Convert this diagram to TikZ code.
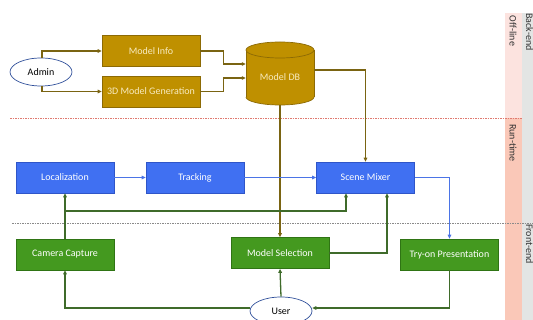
\documentclass[tikz,border=0pt]{standalone}
\usepackage{fontspec}
\setmainfont{Carlito}
\usetikzlibrary{arrows.meta,calc,shapes.geometric}
\definecolor{goldf}{HTML}{BF9000}
\definecolor{goldd}{HTML}{8C6A05}
\definecolor{goldl}{HTML}{7A6412}
\definecolor{goldt}{HTML}{F8EBC0}
\definecolor{bluef}{HTML}{4070F2}
\definecolor{blued}{HTML}{2F55C8}
\definecolor{bluel}{HTML}{4B74E6}
\definecolor{greenf}{HTML}{44991F}
\definecolor{greend}{HTML}{2F7414}
\definecolor{greenl}{HTML}{3F6B2A}
\definecolor{ellb}{HTML}{2F4F9A}
\definecolor{pinkA}{HTML}{FCE3DF}
\definecolor{pinkB}{HTML}{FAC8B8}
\definecolor{grayS}{HTML}{E3E5E4}
\definecolor{redD}{HTML}{E07A70}
\definecolor{grayD}{HTML}{8A8A8A}
\begin{document}
\begin{tikzpicture}[x=1pt,y=-1pt,
  font=\fontsize{10}{12}\selectfont,
  box/.style={rectangle, minimum width=98pt, minimum height=31pt, inner sep=0pt, line width=0.7pt},
  goldbox/.style={box, fill=goldf, draw=goldd, text=goldt},
  bluebox/.style={box, fill=bluef, draw=blued, text=white},
  greenbox/.style={box, fill=greenf, draw=greend, text=white},
  actor/.style={ellipse, draw=ellb, fill=white, line width=0.7pt, minimum width=62pt, minimum height=28pt, inner sep=0pt},
  tip/.style={-{Triangle[length=4pt,width=3.6pt]}},
  goldarr/.style={tip, draw=goldl, line width=1.3pt},
  bluearr/.style={tip, draw=bluel, line width=1.3pt},
  greenarr/.style={tip, draw=greenl, line width=1.3pt},
  lbl/.style={rotate=-90, text=black!80, inner sep=0pt, font=\fontsize{10}{11}\selectfont}
]
\useasboundingbox (0,0) rectangle (533,320);
\clip (0,0) rectangle (533,320);

% side strips
\fill[pinkA] (505,13) rectangle (522,118);
\fill[pinkB] (505,118) rectangle (522,320);
\fill[grayS] (522,13) rectangle (533,320);
\node[lbl] (offl) at (513,31) {Off-line};
\node[lbl] (runt) at (513,143) {Run-time};
\node[lbl] (backe) at (529.5,32) {Back-end};
\node[lbl] (fronte) at (529.5,244) {Front-end};

% dashed separators
\draw[redD, line width=0.6pt, dash pattern=on 1.5pt off 1pt] (10,118) -- (522,118);
\draw[grayD, line width=0.6pt, dash pattern=on 1.5pt off 1pt] (12,223) -- (533,223);

% back-end
\node[actor] (admin) at (41,72) {Admin};
\node[goldbox] (info) at (151,51) {Model Info};
\node[goldbox] (gen) at (151,91.5) {3D Model Generation};
% Model DB cylinder
\fill[goldf] (246,50) rectangle (314,97);
\fill[goldf] (280,97) ellipse [x radius=34, y radius=8];
\draw[goldd, line width=0.7pt] (246,50) -- (246,97);
\draw[goldd, line width=0.7pt] (314,50) -- (314,97);
\draw[goldd, line width=0.7pt] (246,97) arc[start angle=180, end angle=360, x radius=34, y radius=-8];
\draw[goldd, fill=goldf, line width=0.7pt] (280,50) ellipse [x radius=34, y radius=8];
\node[minimum width=68pt, minimum height=63pt, inner sep=0pt] (db) at (280,73.5) {};
\node[text=goldt] (dbt) at (280,77) {Model DB};

% run-time
\node[bluebox] (loc) at (65,177.5) {Localization};
\node[bluebox] (trk) at (195,177.5) {Tracking};
\node[bluebox] (mix) at (365.5,177.5) {Scene Mixer};

% front-end
\node[greenbox] (cam) at (65,254.5) {Camera Capture};
\node[greenbox] (sel) at (280,253) {Model Selection};
\node[greenbox] (try) at (449.5,254.5) {Try-on Presentation};
\node[actor] (user) at (281,311) {User};

% back-end connectors
\draw[goldarr] ([xshift=1pt]admin.north) |- (info.west);
\draw[goldarr] ([xshift=1pt]admin.south) |- (gen.west);
\draw[goldarr] (info.east) -- ++(23,0) |- ([yshift=9.5pt]db.west);
\draw[goldarr] (gen.east) -- ++(23,0) |- ([yshift=-4.5pt]db.west);
\draw[goldarr] ([yshift=3.5pt]db.east) -| (mix.north);
\draw[goldarr] (db.south) -- (sel.north);

% run-time connectors
\draw[bluearr] (loc.east) -- (trk.west);
\draw[bluearr] (trk.east) -- (mix.west);
\draw[bluearr] (mix.east) -| (try.north);

% front-end connectors
\draw[greenarr] (cam.north) -- (loc.south);
\coordinate (cj) at (65,211);
\draw[greenarr] (cj) -| ([xshift=-19.5pt]mix.south);
\draw[greenarr] (sel.east) -| ([xshift=21.5pt]mix.south);
\draw[greenarr] ([yshift=3pt]user.west) -| (cam.south);
\draw[greenarr] (user.north) -- (sel.south);
\draw[greenarr] (try.south) |- ([yshift=3pt]user.east);
\end{tikzpicture}
\end{document}
